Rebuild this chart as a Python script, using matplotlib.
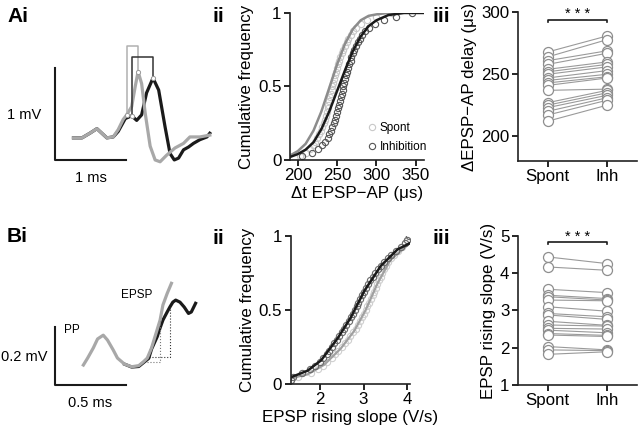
import numpy as np
import matplotlib
matplotlib.use("Agg")
import matplotlib.pyplot as plt

plt.rcParams["font.family"] = ["Liberation Sans", "DejaVu Sans"]
plt.rcParams["axes.linewidth"] = 1.2
plt.rcParams["xtick.major.width"] = 1.2
plt.rcParams["ytick.major.width"] = 1.2

# ---- Ai: example traces (ms, mV)
ai_spont_t = [0.26, 0.38, 0.49, 0.59, 0.66, 0.73, 0.82, 0.89, 0.96, 1.01, 1.08, 1.13, 1.17,
              1.22, 1.27, 1.34, 1.41, 1.48, 1.57, 1.69, 1.81, 1.90, 2.04, 2.18]
ai_spont_v = [0.24, 0.24, 0.29, 0.34, 0.29, 0.24, 0.25, 0.33, 0.44, 0.49, 0.58, 0.80, 0.96,
              0.83, 0.51, 0.15, 0.00, -0.02, 0.05, 0.13, 0.18, 0.25, 0.25, 0.27]
ai_inh_t = [0.26, 0.38, 0.49, 0.59, 0.66, 0.73, 0.82, 0.89, 0.99, 1.08, 1.15, 1.22, 1.29,
            1.38, 1.46, 1.55, 1.62, 1.68, 1.74, 1.81, 1.88, 1.95, 2.04, 2.14, 2.18]
ai_inh_v = [0.24, 0.24, 0.29, 0.34, 0.29, 0.24, 0.25, 0.31, 0.45, 0.48, 0.43, 0.49, 0.73,
            0.89, 0.76, 0.36, 0.07, 0.00, 0.02, 0.11, 0.14, 0.18, 0.22, 0.25, 0.29]

# ---- Bi: example traces (ms, mV)
bi_spont_t = [0.20, 0.23, 0.27, 0.30, 0.34, 0.37, 0.41, 0.44, 0.49, 0.54, 0.59, 0.62, 0.65,
              0.68, 0.71, 0.74, 0.76, 0.79, 0.82]
bi_spont_v = [0.069, 0.093, 0.128, 0.159, 0.172, 0.155, 0.121, 0.093, 0.072, 0.063, 0.067,
              0.079, 0.093, 0.128, 0.176, 0.224, 0.276, 0.316, 0.351]
bi_inh_t = [0.49, 0.54, 0.59, 0.62, 0.66, 0.68, 0.72, 0.74, 0.76, 0.79, 0.81, 0.83, 0.85,
            0.88, 0.91, 0.94, 0.96, 0.99]
bi_inh_v = [0.072, 0.062, 0.064, 0.076, 0.092, 0.124, 0.167, 0.197, 0.224, 0.252, 0.270,
            0.286, 0.293, 0.286, 0.269, 0.247, 0.252, 0.282]

# ---- Aii: EPSP-AP delays (us), cumulative
aii_spont = [203, 210, 215, 219, 222, 225, 227, 229, 231, 233, 234, 236, 237, 238, 239, 240,
             241, 242, 243, 244, 245, 246, 247, 248, 250, 251, 253, 254, 256, 258, 260, 262,
             264, 267, 270, 274, 280, 288, 300, 320]
aii_inh = [205, 218, 226, 231, 235, 238, 240, 242, 244, 246, 247, 249, 250, 251, 252, 254,
           255, 256, 257, 258, 259, 260, 261, 263, 264, 265, 267, 268, 270, 272, 274, 276,
           279, 282, 286, 291, 298, 310, 325, 345]
aii_fit_x = [190, 200, 210, 220, 230, 240, 250, 260, 270, 280, 290, 300, 315, 335, 360]
aii_fit_spont = [0.03, 0.06, 0.11, 0.20, 0.33, 0.49, 0.65, 0.79, 0.89, 0.95, 0.98, 0.99,
                 1.0, 1.0, 1.0]
aii_fit_inh = [0.02, 0.04, 0.07, 0.12, 0.21, 0.33, 0.47, 0.61, 0.74, 0.84, 0.91, 0.95,
               0.985, 1.0, 1.0]

# ---- Aiii: paired delays (us)
aiii_spont = [268, 264, 261, 258, 254, 252, 250, 247, 245, 243, 241, 237, 227, 225, 223,
              220, 217, 212]
aiii_inh = [281, 278, 269, 267, 260, 258, 256, 253, 250, 248, 247, 238, 237, 235, 233,
            231, 229, 225]

# ---- Bii: EPSP rising slope (V/s), cumulative
bii_spont = [1.35, 1.50, 1.80, 1.95, 2.08, 2.17, 2.27, 2.35, 2.42, 2.50, 2.57, 2.64, 2.70,
             2.77, 2.83, 2.88, 2.93, 2.97, 3.01, 3.05, 3.09, 3.13, 3.17, 3.21, 3.24, 3.28,
             3.32, 3.35, 3.39, 3.43, 3.47, 3.52, 3.57, 3.63, 3.70, 3.78, 3.87, 3.95, 4.00, 4.05]
bii_inh = [1.35, 1.38, 1.60, 1.78, 1.90, 2.00, 2.08, 2.16, 2.22, 2.27, 2.33, 2.39, 2.45,
           2.50, 2.55, 2.60, 2.66, 2.71, 2.76, 2.80, 2.84, 2.88, 2.93, 2.97, 3.01, 3.06,
           3.11, 3.16, 3.21, 3.27, 3.33, 3.40, 3.47, 3.55, 3.63, 3.74, 3.85, 3.95, 4.00, 4.05]
bii_fit_x = [1.35, 1.72, 2.03, 2.41, 2.71, 3.02, 3.40, 3.78, 4.05]
bii_fit_inh = [0.047, 0.09, 0.16, 0.31, 0.45, 0.63, 0.80, 0.91, 0.95]
bii_fit_spont_x = [1.35, 1.72, 2.10, 2.48, 2.79, 3.05, 3.32, 3.62, 4.05]
bii_fit_spont = [0.04, 0.065, 0.13, 0.24, 0.36, 0.50, 0.68, 0.84, 0.95]

# ---- Biii: paired slopes (V/s)
biii_spont = [4.44, 4.17, 3.57, 3.41, 3.37, 3.28, 3.10, 2.92, 2.88, 2.71, 2.61, 2.52, 2.47,
              2.38, 2.34, 2.03, 1.94, 1.82]
biii_inh = [4.26, 4.08, 3.48, 3.32, 3.28, 3.26, 2.98, 2.83, 2.76, 2.60, 2.58, 2.50, 2.40,
            2.33, 2.30, 1.94, 1.92, 1.89]

MID = "#8c8c8c"
DARK = "#1a1a1a"
FS = 12.2       # axis text
FS_SMALL = 10.5  # scale bar text


def style_axes(ax):
    for s in ("top", "right"):
        ax.spines[s].set_visible(False)
    ax.spines["left"].set_color("#222222")
    ax.spines["bottom"].set_color("#222222")
    ax.tick_params(direction="out", length=4, labelsize=FS, pad=2)


def cdf(ax, vals, **kw):
    v = np.sort(vals)
    y = np.arange(1, len(v) + 1) / len(v)
    return ax.plot(v, y, "o", mfc="none", ms=4.5, mew=0.8, **kw)


def plot_traces_a(ax):
    ax.plot(ai_inh_t, ai_inh_v, color=DARK, lw=2.3, solid_joinstyle="round")
    ax.plot(ai_spont_t, ai_spont_v, color="#a8a8a8", lw=2.3, solid_joinstyle="round")
    # delay brackets
    ax.plot([1.01, 1.01, 1.17, 1.17], [0.49, 1.24, 1.24, 0.96], color="#b0b0b0", lw=1.1)
    ax.plot([1.09, 1.09, 1.38, 1.38], [0.48, 1.12, 1.12, 0.89], color="#333333", lw=1.1)
    ax.plot([1.01, 1.17, 1.09, 1.38], [0.49, 0.96, 0.48, 0.89], "o", ms=3,
            mfc="white", mec="#999999", mew=0.7)
    # scale bars
    ax.plot([0, 0, 1], [1, 0, 0], color=DARK, lw=1.5)
    ax.text(-0.44, 0.49, "1 mV", ha="center", va="center", fontsize=FS_SMALL)
    ax.text(0.5, -0.2, "1 ms", ha="center", va="center", fontsize=FS_SMALL)
    ax.set_xlim(-0.775, 2.254)
    ax.set_ylim(-0.435, 1.304)
    ax.axis("off")


def plot_traces_b(ax):
    ax.plot(bi_inh_t, bi_inh_v, color=DARK, lw=2.3, solid_joinstyle="round")
    ax.plot(bi_spont_t, bi_spont_v, color="#a8a8a8", lw=2.3, solid_joinstyle="round")
    ax.plot([0.648, 0.74, 0.74], [0.08, 0.08, 0.22], color="#777777", lw=0.8, ls=":")
    ax.plot([0.66, 0.81, 0.81], [0.097, 0.097, 0.27], color="#333333", lw=0.8, ls=":")
    ax.plot([0, 0, 0.5], [0.2, 0, 0], color=DARK, lw=1.5)
    ax.text(0.116, 0.19, "PP", ha="center", va="center", fontsize=8.5)
    ax.text(0.574, 0.31, "EPSP", ha="center", va="center", fontsize=8.5)
    ax.text(-0.218, 0.097, "0.2 mV", ha="center", va="center", fontsize=FS_SMALL)
    ax.text(0.246, -0.062, "0.5 ms", ha="center", va="center", fontsize=FS_SMALL)
    ax.set_xlim(-0.387, 1.127)
    ax.set_ylim(-0.138, 0.414)
    ax.axis("off")


def plot_cdf_a(ax):
    cdf(ax, aii_spont, mec="#c8c8c8", label="Spont")
    cdf(ax, aii_inh, mec="#555555", label="Inhibition")
    ax.plot(aii_fit_x, aii_fit_spont, color=MID, lw=1.8)
    ax.plot(aii_fit_x, aii_fit_inh, color=DARK, lw=1.8)
    ax.set_xlim(190, 360)
    ax.set_ylim(0, 1)
    ax.set_xticks([200, 250, 300, 350])
    ax.set_yticks([0, 0.5, 1], ["0", "0.5", "1"])
    ax.set_xlabel("\u0394t EPSP\u2212AP (\u03bcs)", fontsize=FS, labelpad=2)
    ax.set_ylabel("Cumulative frequency", fontsize=FS, labelpad=3)
    ax.legend(loc="lower right", bbox_to_anchor=(1.08, 0.0), frameon=False, fontsize=8.5,
              handletextpad=0.1, borderaxespad=0.2, labelspacing=0.6, handlelength=1.2)
    style_axes(ax)


def plot_cdf_b(ax):
    cdf(ax, bii_spont, mec="#cfcfcf")
    ax.plot(bii_fit_spont_x, bii_fit_spont, color="#a0a0a0", lw=1.6)
    cdf(ax, bii_inh, mec="#6a6a6a")
    ax.plot(bii_fit_x, bii_fit_inh, color=DARK, lw=1.8)
    ax.set_xlim(1.33, 4.07)
    ax.set_ylim(0, 1)
    ax.set_xticks([2, 3, 4])
    ax.set_yticks([0, 0.5, 1], ["0", "0.5", "1"])
    ax.set_xlabel("EPSP rising slope (V/s)", fontsize=FS, labelpad=2)
    ax.set_ylabel("Cumulative frequency", fontsize=FS, labelpad=3)
    style_axes(ax)


def plot_pairs(ax, spont, inh, ylim, yticks, ylabel, bar_y, star_y):
    for s, i in zip(spont, inh):
        ax.plot([0, 1], [s, i], color="#9a9a9a", lw=0.8, zorder=1)
    ax.plot(np.zeros(len(spont)), spont, "o", ms=7.2, mfc="white", mec="#8e8e8e",
            mew=0.9, zorder=2)
    ax.plot(np.ones(len(inh)), inh, "o", ms=7.2, mfc="white", mec="#8e8e8e",
            mew=0.9, zorder=2)
    tick = (ylim[1] - ylim[0]) * 0.015
    ax.plot([0, 0, 1, 1], [bar_y - tick, bar_y, bar_y, bar_y - tick], color=DARK, lw=1.2,
            clip_on=False)
    ax.text(0.5, star_y, "* * *", ha="center", va="center", fontsize=FS_SMALL)
    ax.set_xlim(-0.5, 1.5)
    ax.set_ylim(*ylim)
    ax.set_xticks([0, 1], ["Spont", "Inh"])
    ax.set_yticks(yticks)
    ax.set_ylabel(ylabel, fontsize=FS, labelpad=3)
    style_axes(ax)


def main():
    fig = plt.figure(figsize=(6.4, 4.3), dpi=100)

    ax_ai = fig.add_axes([0, 0.535, 0.336, 0.372])
    ax_aii = fig.add_axes([0.453, 0.628, 0.209, 0.342])
    ax_aiii = fig.add_axes([0.809, 0.626, 0.186, 0.345])
    ax_bi = fig.add_axes([0, 0.0116, 0.336, 0.372])
    ax_bii = fig.add_axes([0.454, 0.107, 0.187, 0.344])
    ax_biii = fig.add_axes([0.809, 0.105, 0.186, 0.346])

    plot_traces_a(ax_ai)
    plot_cdf_a(ax_aii)
    plot_pairs(ax_aiii, aiii_spont, aiii_inh, (180, 300), [200, 250, 300],
               "\u0394EPSP\u2212AP delay (\u03bcs)", 293.8, 298.5)
    plot_traces_b(ax_bi)
    plot_cdf_b(ax_bii)
    plot_pairs(ax_biii, biii_spont, biii_inh, (1, 5), [1, 2, 3, 4, 5],
               "EPSP rising slope (V/s)", 4.84, 4.98)

    for txt, x, y in [("Ai", 7, 16), ("ii", 213, 16), ("iii", 432, 16),
                      ("Bi", 7, 237), ("ii", 213, 238), ("iii", 432, 238)]:
        fig.text(x / 640, 1 - y / 430, txt, fontsize=15, fontweight="bold",
                 ha="left", va="center")

    fig.savefig("out.png", dpi=100)
    plt.close(fig)


if __name__ == "__main__":
    main()
